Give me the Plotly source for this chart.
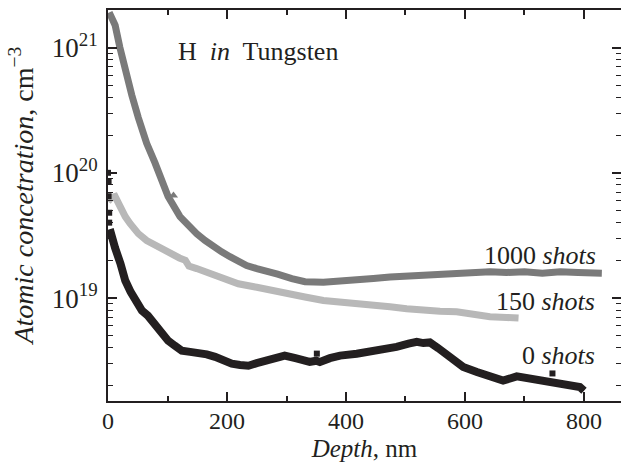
import plotly.graph_objects as go

# ---- data ----
depth_1000 = [2, 6, 12, 20, 29, 40, 51, 65, 79, 90, 101, 121, 135, 149, 163, 177, 191, 205, 219, 233,
              250, 264, 285, 309, 331, 362, 390, 418, 446, 474, 502, 530, 558, 586, 614, 642, 670, 700,
              730, 760, 790, 830]
conc_1000 = [1.91e21, 1.74e21, 1.51e21, 1.0e21, 6.46e20, 4.17e20, 2.75e20, 1.72e20, 1.20e20, 8.9e19,
             6.46e19, 4.47e19, 3.80e19, 3.27e19, 2.88e19, 2.57e19, 2.34e19, 2.14e19, 1.97e19, 1.82e19,
             1.72e19, 1.66e19, 1.55e19, 1.43e19, 1.35e19, 1.34e19, 1.36e19, 1.40e19, 1.43e19, 1.47e19,
             1.50e19, 1.54e19, 1.55e19, 1.58e19, 1.60e19, 1.62e19, 1.60e19, 1.62e19, 1.58e19, 1.62e19,
             1.60e19, 1.58e19]
spike_depth_1000 = [110]
spike_conc_1000 = [6.6e19]

depth_150 = [0, 5, 12, 20, 29, 37, 51, 65, 79, 93, 107, 120, 130, 136, 149, 163, 188, 219, 250, 275,
             306, 331, 362, 390, 418, 446, 474, 502, 530, 558, 586, 614, 642, 670, 690]
conc_150 = [5.89e19, 6.31e19, 6.46e19, 5.37e19, 4.47e19, 3.94e19, 3.27e19, 2.88e19, 2.63e19, 2.40e19,
            2.26e19, 2.09e19, 2.0e19, 1.80e19, 1.72e19, 1.62e19, 1.48e19, 1.30e19, 1.22e19, 1.15e19,
            1.05e19, 1.02e19, 9.55e18, 9.33e18, 9.02e18, 8.71e18, 8.51e18, 8.22e18, 7.94e18, 7.85e18,
            7.76e18, 7.41e18, 7.08e18, 7.0e18, 6.92e18]

depth_0 = [3, 7, 12, 21, 29, 38, 47, 57, 67, 79, 91, 101, 112, 124, 138, 152, 166, 180, 194, 208,
           222, 236, 250, 264, 280, 297, 315, 331, 339, 350, 356, 373, 390, 418, 452, 485, 505, 519,
           530, 541, 555, 569, 583, 597, 620, 642, 664, 687, 705, 721, 740, 755, 765, 780, 793, 800]
conc_0 = [3.55e19, 3.16e19, 2.51e19, 1.88e19, 1.38e19, 1.12e19, 9.33e18, 7.94e18, 7.24e18, 6.17e18,
          5.19e18, 4.57e18, 4.17e18, 3.80e18, 3.72e18, 3.67e18, 3.55e18, 3.39e18, 3.16e18, 2.99e18,
          2.92e18, 2.88e18, 3.02e18, 3.16e18, 3.31e18, 3.47e18, 3.31e18, 3.16e18, 3.09e18, 3.16e18,
          3.09e18, 3.31e18, 3.47e18, 3.59e18, 3.80e18, 4.07e18, 4.32e18, 4.47e18, 4.37e18, 4.42e18,
          3.98e18, 3.59e18, 3.16e18, 2.82e18, 2.57e18, 2.34e18, 2.19e18, 2.37e18, 2.29e18, 2.19e18,
          2.14e18, 2.09e18, 2.07e18, 2.0e18, 1.95e18, 1.82e18]
spike_depth_0 = [0, 1, 1, 2, 2, 351, 747]
spike_conc_0 = [1.0e20, 8.5e19, 6.5e19, 4.8e19, 4.0e19, 3.6e18, 2.5e18]

x_ticks = [0, 200, 400, 600, 800]
x_minor = [100, 300, 500, 700]
y_ticks = [1e19, 1e20, 1e21]
y_ticktext = ["10<sup>19</sup>", "10<sup>20</sup>", "10<sup>21</sup>"]
y_minor = [float(k) * 10.0 ** e for e in (18, 19, 20, 21) for k in range(2, 10)]

labels = ["1000 <i>shots</i>", "150 <i>shots</i>", "0 <i>shots</i>"]

C1000 = "#7a7a7a"
C150 = "#b8b8b8"
C0 = "#231f20"
FONT = "Liberation Serif"

fig = go.Figure()
fig.add_trace(go.Scatter(x=depth_150, y=conc_150, mode="lines",
                         line=dict(color=C150, width=7), showlegend=False, hoverinfo="skip"))
fig.add_trace(go.Scatter(x=depth_1000, y=conc_1000, mode="lines",
                         line=dict(color=C1000, width=7), showlegend=False, hoverinfo="skip"))
fig.add_trace(go.Scatter(x=spike_depth_1000, y=spike_conc_1000, mode="markers",
                         marker=dict(symbol="triangle-up", color=C1000, size=8),
                         showlegend=False, hoverinfo="skip"))
fig.add_trace(go.Scatter(x=depth_0, y=conc_0, mode="lines",
                         line=dict(color=C0, width=8), showlegend=False, hoverinfo="skip"))
fig.add_trace(go.Scatter(x=spike_depth_0, y=spike_conc_0, mode="markers",
                         marker=dict(symbol="square", color=C0, size=6),
                         showlegend=False, hoverinfo="skip"))
# invisible trace to carry the right-hand tick axis
fig.add_trace(go.Scatter(x=[0], y=[1e19], yaxis="y2", mode="markers", opacity=0,
                         showlegend=False, hoverinfo="skip"))

yrange = [18.178, 21.30]
tick_font = dict(family=FONT, size=24, color="#231f20")
ytick_font = dict(family=FONT, size=27, color="#231f20")
xtitle_font = dict(family=FONT, size=25, color="#231f20")
ytitle_font = dict(family=FONT, size=28, color="#231f20")

fig.update_layout(
    width=621, height=468,
    margin=dict(l=108, r=0, t=10, b=67),
    paper_bgcolor="white", plot_bgcolor="white",
    font=tick_font,
    xaxis=dict(range=[0, 862.2], tickvals=x_ticks, ticks="inside", ticklen=9, tickwidth=1.5,
               tickcolor="#231f20", showline=True, linewidth=2, linecolor="#231f20",
               mirror="ticks", showgrid=False, zeroline=False, automargin=False,
               ticklabelstandoff=-3,
               minor=dict(tickvals=x_minor, ticks="inside", ticklen=5, tickwidth=1.5,
                          tickcolor="#231f20", showgrid=False),
               title=dict(text="<i>Depth</i>, nm", font=xtitle_font, standoff=7),
               tickfont=tick_font),
    yaxis=dict(type="log", range=yrange, tickvals=y_ticks, ticktext=y_ticktext,
               ticks="inside", ticklen=9, tickwidth=1.5, tickcolor="#231f20",
               showline=True, linewidth=2, linecolor="#231f20", mirror=False,
               showgrid=False, zeroline=False, automargin=False, ticklabelstandoff=3,
               minor=dict(tickvals=y_minor, ticks="inside", ticklen=5, tickwidth=1.2,
                          tickcolor="#231f20", showgrid=False),
               tickfont=ytick_font),
    yaxis2=dict(type="log", range=yrange, overlaying="y", side="right", anchor="x",
                tickvals=y_ticks, showticklabels=False, ticks="inside", ticklen=9,
                tickwidth=1.5, tickcolor="#231f20", showline=False, showgrid=False,
                zeroline=False, automargin=False,
                minor=dict(tickvals=y_minor, ticks="inside", ticklen=5, tickwidth=1.2,
                           tickcolor="#231f20", showgrid=False)),
)

# y-axis title as a rotated annotation for exact placement
fig.add_annotation(x=-0.168, y=0.525, xref="paper", yref="paper",
                   text="<i>Atomic concetration</i>, cm<sup>−3</sup>", textangle=-90,
                   showarrow=False, xanchor="center", yanchor="middle", font=ytitle_font)

ann_font = dict(family=FONT, size=26, color="#231f20")
fig.add_annotation(x=823, y=19.34, xref="x", yref="y", text=labels[0], showarrow=False,
                   xanchor="right", yanchor="middle", font=ann_font)
fig.add_annotation(x=822, y=18.975, xref="x", yref="y", text=labels[1], showarrow=False,
                   xanchor="right", yanchor="middle", font=ann_font)
fig.add_annotation(x=822, y=18.54, xref="x", yref="y", text=labels[2], showarrow=False,
                   xanchor="right", yanchor="middle", font=ann_font)
fig.add_annotation(x=115, y=20.97, xref="x", yref="y", text="H  <i>in</i>  Tungsten",
                   showarrow=False, xanchor="left", yanchor="middle", font=ann_font)

fig.write_html("out.html", config={"displayModeBar": False},
               post_script="document.body.style.margin='0';document.body.style.overflow='hidden';")
